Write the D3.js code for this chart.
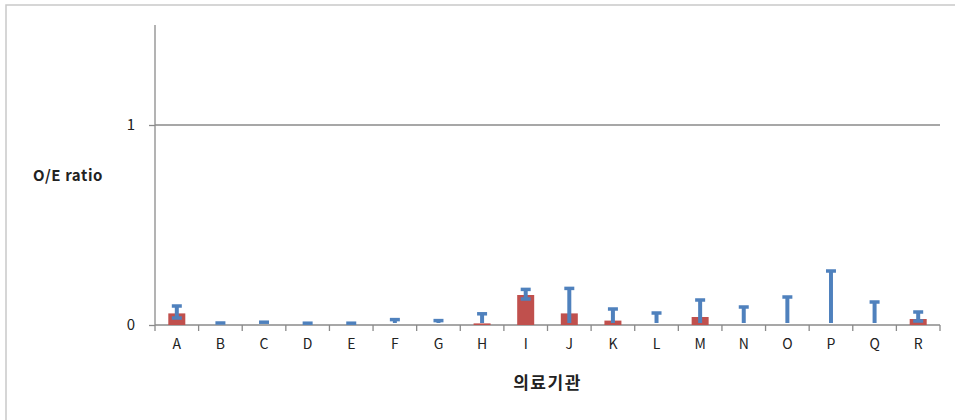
<!DOCTYPE html>
<html>
<head>
<meta charset="utf-8">
<script src="https://cdn.jsdelivr.net/npm/d3@7/dist/d3.min.js"></script>
<style>
  html, body { margin: 0; padding: 0; background: #fff; }
  svg { display: block; }
  text { font-family: "Noto Sans CJK KR", "Open Sans", sans-serif; fill: #222; }
</style>
</head>
<body>
<svg id="chart" width="955" height="420"></svg>
<script>
// Hospitals (의료기관) and their observed/expected ratios with interval bounds
const institutions = ["A","B","C","D","E","F","G","H","I","J","K","L","M","N","O","P","Q","R"];
const oeRatio      = [0.058, 0, 0, 0, 0, 0, 0, 0.008, 0.15, 0.058, 0.022, 0, 0.04, 0, 0, 0, 0, 0.03];
const lowerBound   = [0.035, 0, 0, 0, 0, 0, 0, 0, 0.13, 0, 0, 0, 0, 0, 0, 0, 0, 0.02];
const upperBound   = [0.095, 0.01, 0.014, 0.009, 0.009, 0.027, 0.022, 0.056, 0.178, 0.183, 0.08, 0.06, 0.125, 0.09, 0.14, 0.27, 0.115, 0.065];
const yTicks = [0, 1];

const svg = d3.select("#chart");

// outer chart frame
svg.append("rect").attr("x", 6).attr("y", 5).attr("width", 1000).attr("height", 500)
  .attr("fill", "none").attr("stroke", "#c9c9c9").attr("stroke-width", 1.5);

const plot = { left: 155, right: 940, top: 25, bottom: 325 };

const x = d3.scaleBand().domain(institutions).range([plot.left, plot.right]).padding(0);
const y = d3.scaleLinear().domain([0, 1.5]).range([plot.bottom, plot.top]);

const axisColor = "#8a8a8a";

// horizontal gridline at 1
svg.append("g").selectAll("line").data(yTicks.filter(d => d > 0)).join("line")
  .attr("x1", plot.left).attr("x2", plot.right)
  .attr("y1", d => y(d)).attr("y2", d => y(d))
  .attr("stroke", axisColor).attr("stroke-width", 1.3);

// y axis
const yAxis = svg.append("g").attr("transform", `translate(${plot.left},0)`)
  .call(d3.axisLeft(y).tickValues(yTicks).tickFormat(d3.format("d")).tickSize(6).tickPadding(14));
yAxis.select(".domain").attr("stroke", axisColor).attr("stroke-width", 1.3).attr("d", `M0,${plot.top}V${plot.bottom}`);
yAxis.selectAll(".tick line").attr("stroke", axisColor).attr("stroke-width", 1.3);
yAxis.selectAll(".tick text").attr("font-size", 15).style("font-family", "'Noto Sans CJK KR', sans-serif").attr("fill", "#222");

// x axis with ticks at category boundaries
const xAxis = svg.append("g").attr("transform", `translate(0,${plot.bottom})`)
  .call(d3.axisBottom(x).tickSize(0).tickPadding(14));
xAxis.select(".domain").attr("stroke", axisColor).attr("stroke-width", 1.3).attr("d", `M${plot.left},0H${plot.right}`);
xAxis.selectAll(".tick text").attr("font-size", 14).style("font-family", "'Noto Sans CJK KR', sans-serif").attr("fill", "#222");
const boundaries = institutions.map(d => x(d)).concat([plot.right]);
xAxis.selectAll("line.bound").data(boundaries).join("line").attr("class", "bound")
  .attr("x1", d => d).attr("x2", d => d).attr("y1", 0).attr("y2", 6)
  .attr("stroke", axisColor).attr("stroke-width", 1.3);

// bars
const barW = 17;
svg.append("g").selectAll("rect").data(institutions).join("rect")
  .attr("x", (d) => x(d) + x.bandwidth() / 2 - barW / 2)
  .attr("y", (d, i) => y(oeRatio[i]))
  .attr("width", barW)
  .attr("height", (d, i) => y(0) - y(oeRatio[i]))
  .attr("fill", "#C0504D");

// interval bars
const blue = "#4F81BD";
const capW = 10;
const eg = svg.append("g");
institutions.forEach((d, i) => {
  const cx = x(d) + x.bandwidth() / 2;
  const lo = lowerBound[i], hi = upperBound[i];
  eg.append("line").attr("x1", cx).attr("x2", cx)
    .attr("y1", Math.min(y(lo), y(0) - 2)).attr("y2", y(hi))
    .attr("stroke", blue).attr("stroke-width", 4);
  eg.append("line").attr("x1", cx - capW / 2).attr("x2", cx + capW / 2)
    .attr("y1", y(hi)).attr("y2", y(hi))
    .attr("stroke", blue).attr("stroke-width", 3.5);
  if (lo > 0) {
    eg.append("line").attr("x1", cx - capW / 2).attr("x2", cx + capW / 2)
      .attr("y1", y(lo)).attr("y2", y(lo))
      .attr("stroke", blue).attr("stroke-width", 3.5);
  }
});

// axis titles
svg.append("text").attr("x", 33).attr("y", 181)
  .attr("font-size", 15).attr("font-weight", "bold").attr("letter-spacing", 0.6).text("O/E ratio");
svg.append("text").attr("x", (plot.left + plot.right) / 2).attr("y", 389)
  .attr("text-anchor", "middle").attr("font-size", 17).attr("font-weight", "bold")
  .attr("letter-spacing", 1.5).text("의료기관");
</script>
</body>
</html>
